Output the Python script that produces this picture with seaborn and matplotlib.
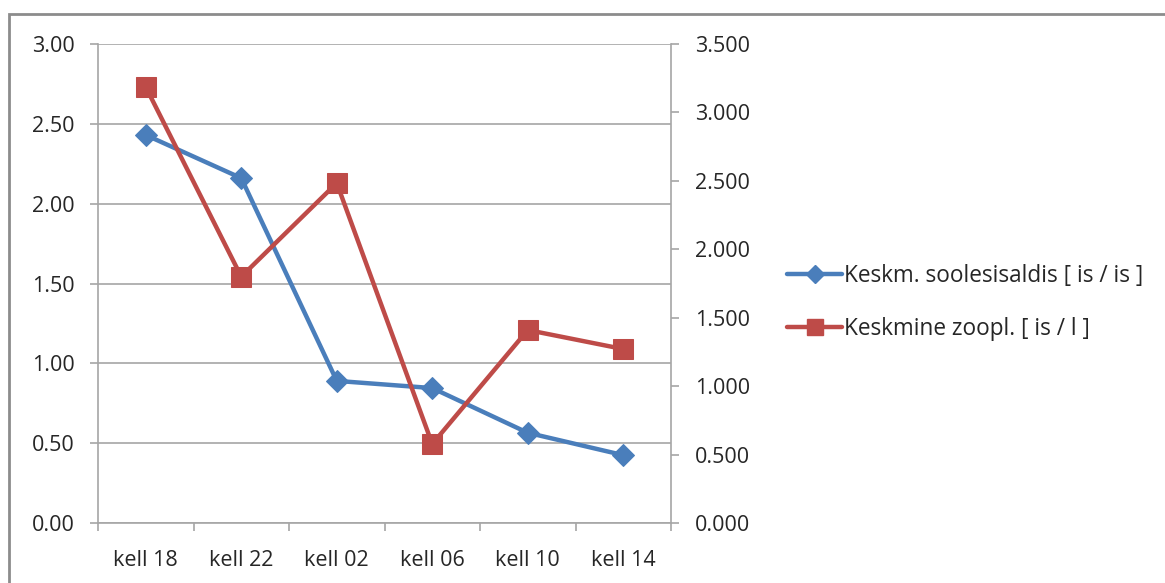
import matplotlib
matplotlib.use("Agg")
import matplotlib.pyplot as plt
from matplotlib.lines import Line2D
from matplotlib.patches import Rectangle
from matplotlib.ticker import FixedLocator, FormatStrFormatter
import seaborn as sns
import pandas as pd

# Data
categories = ["kell 18", "kell 22", "kell 02", "kell 06", "kell 10", "kell 14"]
gut_content = [2.43, 2.16, 0.89, 0.845, 0.565, 0.425]        # left axis
zooplankton = [3.186, 1.80, 2.484, 0.577, 1.41, 1.271]       # right axis
series_names = ["Keskm. soolesisaldis [ is / is ]", "Keskmine zoopl. [ is / l ]"]

BLUE = "#4A7EBB"
RED = "#BE4B48"
GRID = "#A6A6A6"
TEXT = "#262626"
FS = 15.5
LW = 3.2

sns.set_style("white")
plt.rcParams["font.family"] = ["Open Sans", "DejaVu Sans"]

df = pd.DataFrame({"pos": range(len(categories)), "cat": categories,
                   "gut": gut_content, "zoo": zooplankton})

fig = plt.figure(figsize=(11.65, 5.83), dpi=100)
W, H = 1165, 583
ax = fig.add_axes([98 / W, (H - 523) / H, (671 - 98) / W, (523 - 44) / H])
ax2 = ax.twinx()

sns.lineplot(data=df, x="pos", y="gut", ax=ax, color=BLUE, linewidth=LW,
             marker="D", markersize=11, markeredgecolor=BLUE, zorder=3)
sns.lineplot(data=df, x="pos", y="zoo", ax=ax2, color=RED, linewidth=LW,
             marker="s", markersize=14, markeredgecolor=RED, zorder=3)

# Axes limits and ticks
ax.set_xlim(-0.5, len(categories) - 0.5)
ax.set_ylim(0, 3.0)
ax2.set_ylim(0, 3.5)
ax.set_yticks([0, 0.5, 1.0, 1.5, 2.0, 2.5, 3.0])
ax.yaxis.set_major_formatter(FormatStrFormatter("%.2f"))
ax2.set_yticks([0, 0.5, 1.0, 1.5, 2.0, 2.5, 3.0, 3.5])
ax2.yaxis.set_major_formatter(FormatStrFormatter("%.3f"))
ax.set_xticks(range(len(categories)))
ax.set_xticklabels(categories)
ax.xaxis.set_minor_locator(FixedLocator([i - 0.5 for i in range(len(categories) + 1)]))

ax.set_xlabel("")
ax.set_ylabel("")
ax2.set_ylabel("")

ax.grid(axis="y", color=GRID, linewidth=1.2, zorder=0)
ax.set_axisbelow(True)

for a in (ax, ax2):
    for s in a.spines.values():
        s.set_visible(False)

for a, side in ((ax, "left"), (ax, "bottom"), (ax2, "right")):
    a.spines[side].set_visible(True)
    a.spines[side].set_color(GRID)
    a.spines[side].set_linewidth(1.2)

ax.tick_params(axis="y", which="major", length=6, width=1.2, color=GRID,
               labelsize=FS, labelcolor=TEXT, pad=11, left=True)
ax.tick_params(axis="x", which="major", length=0, labelsize=FS,
               labelcolor=TEXT, pad=19.5)
ax.tick_params(axis="x", which="minor", length=6, width=1.2, color=GRID,
               bottom=True)
ax2.tick_params(axis="y", length=6, width=1.2, color=GRID, labelsize=FS,
                labelcolor=TEXT, pad=11, right=True)

if ax.get_legend():
    ax.get_legend().remove()
if ax2.get_legend():
    ax2.get_legend().remove()

handles = [
    Line2D([], [], color=BLUE, linewidth=LW, marker="D", markersize=9),
    Line2D([], [], color=RED, linewidth=LW, marker="s", markersize=11),
]
fig.legend(handles, series_names, loc="center left",
           bbox_to_anchor=(767 / W, 1 - 302.5 / H), frameon=False,
           fontsize=16.3, handlelength=2.4, handletextpad=0.1,
           labelspacing=1.25, labelcolor=TEXT)

# Outer chart frame
fig.patches.append(Rectangle((9 / W, -0.2), 2.0, 1.2 - 14 / H,
                             transform=fig.transFigure, fill=False,
                             edgecolor="#8C8C8C", linewidth=2))

fig.savefig("out.png", dpi=100)
